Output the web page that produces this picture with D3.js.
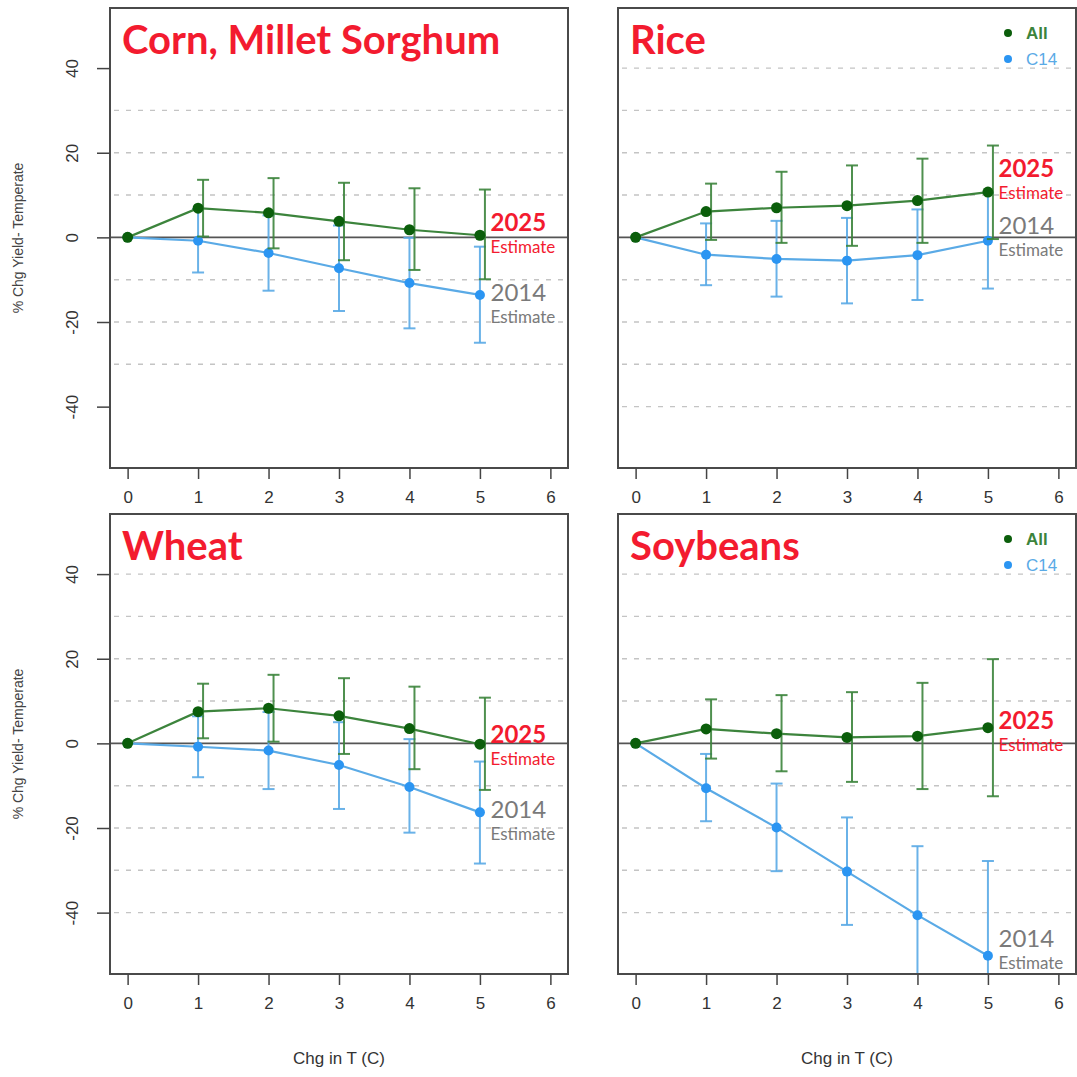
<!DOCTYPE html>
<html>
<head>
<meta charset="utf-8">
<script src="https://cdn.jsdelivr.net/npm/d3@7"></script>
<style>
body { margin: 0; background: #fff; }
svg { display: block; }
</style>
</head>
<body>
<script>
// temperature change steps (x) and panel names
var temps = [0, 1, 2, 3, 4, 5];
var crops = ["Corn, Millet Sorghum", "Rice", "Wheat", "Soybeans"];

// "All" models: mean and error bar ends, one row per crop
var allMean = [
  [0, 6.9, 5.8, 3.8, 1.8, 0.5],
  [0, 6.1, 7.0, 7.5, 8.7, 10.7],
  [0, 7.5, 8.3, 6.5, 3.5, -0.2],
  [0, 3.4, 2.3, 1.4, 1.7, 3.7]
];
var allLow = [
  [0, 0.2, -2.6, -5.4, -7.7, -9.9],
  [0, -0.6, -1.3, -2.0, -1.3, -0.4],
  [0, 1.2, 0.4, -2.5, -6.1, -11.0],
  [0, -3.6, -6.6, -9.1, -10.8, -12.5]
];
var allHigh = [
  [0, 13.6, 14.0, 12.9, 11.6, 11.3],
  [0, 12.7, 15.5, 17.0, 18.6, 21.7],
  [0, 14.1, 16.2, 15.4, 13.4, 10.8],
  [0, 10.4, 11.4, 12.1, 14.3, 19.9]
];

// "C14" models
var c14Mean = [
  [0, -0.8, -3.7, -7.3, -10.8, -13.6],
  [0, -4.1, -5.1, -5.5, -4.2, -0.8],
  [0, -0.8, -1.7, -5.1, -10.3, -16.3],
  [0, -10.6, -19.9, -30.3, -40.6, -50.2]
];
var c14Low = [
  [0, -8.3, -12.6, -17.4, -21.5, -24.9],
  [0, -11.3, -14.0, -15.6, -14.8, -12.1],
  [0, -8.0, -10.8, -15.5, -21.1, -28.4],
  [0, -18.4, -30.2, -42.9, -56.9, -72.6]
];
var c14High = [
  [0, 6.7, 5.2, 2.8, -0.1, -2.2],
  [0, 3.3, 3.9, 4.6, 6.6, 10.5],
  [0, 6.4, 7.4, 5.0, 1.0, -4.3],
  [0, -2.5, -9.5, -17.5, -24.3, -27.8]
];

// tick labels and dashed grid levels
var xTicks = [0, 1, 2, 3, 4, 5, 6];
var yTicks = [-40, -20, 0, 20, 40];
var gridLevels = [
  [-30, -20, -10, 10, 20, 30],
  [-40, -30, -20, -10, 10, 20, 30, 40],
  [-40, -30, -20, -10, 10, 20, 30, 40],
  [-40, -30, -20, -10, 10, 20, 30, 40]
];

// where the "2025 Estimate" / "2014 Estimate" notes sit (data units)
var note2025 = [1.6, 14.2, 0.0, 3.5];
var note2014 = [-15.0, 0.8, -17.7, -48.1];
var noteX = 5.15;

var legendNames = ["All", "C14"];

var green = "#0b5e0b", greenLine = "#3c843c";
var blue = "#2b95f2", blueLine = "#5aaae6";
var red = "#f31b2f";
var axisFont = "'Liberation Sans', Arial, sans-serif";
var noteFont = "Lato, 'Open Sans', sans-serif";

var svg = d3.select("body").append("svg")
    .attr("width", 1077)
    .attr("height", 1077);

var panelW = 458, panelH = 460;
var spots = [[110, 8], [618, 8], [110, 514], [618, 514]];

var x = d3.scaleLinear().domain([-0.25, 6.25]).range([0, panelW]);
var y = d3.scaleLinear().domain([-54.5, 54.2]).range([panelH, 0]);

var line = d3.line()
    .x(function(d) { return x(d[0]); })
    .y(function(d) { return y(d[1]); });

crops.forEach(function(crop, p) {
  var g = svg.append("g")
      .attr("transform", "translate(" + spots[p][0] + "," + spots[p][1] + ")");

  g.append("clipPath").attr("id", "clip" + p)
    .append("rect").attr("width", panelW).attr("height", panelH);

  // dashed grid
  g.selectAll(".grid")
      .data(gridLevels[p])
    .enter().append("line")
      .attr("x1", 4).attr("x2", panelW - 4)
      .attr("y1", function(d) { return y(d); })
      .attr("y2", function(d) { return y(d); })
      .attr("stroke", "#c4c4c4")
      .attr("stroke-width", 1.4)
      .attr("stroke-dasharray", "5,7");

  // zero line
  g.append("line")
      .attr("x1", 0).attr("x2", panelW)
      .attr("y1", y(0)).attr("y2", y(0))
      .attr("stroke", "#555").attr("stroke-width", 1.6);

  var plot = g.append("g").attr("clip-path", "url(#clip" + p + ")");

  // C14 drawn first, All on top
  var series = [
    {mean: c14Mean[p], low: c14Low[p], high: c14High[p], pt: blue, ln: blueLine, r: 5, shift: 0},
    {mean: allMean[p], low: allLow[p], high: allHigh[p], pt: green, ln: greenLine, r: 5.5, shift: 5}
  ];

  series.forEach(function(s) {
    var rows = temps.map(function(t, i) {
      return {t: t, m: s.mean[i], lo: s.low[i], hi: s.high[i]};
    });
    var bars = rows.filter(function(d) { return d.hi > d.lo; });

    var eb = plot.append("g")
        .attr("stroke", s.ln)
        .attr("stroke-width", 2)
        .attr("stroke-opacity", 0.9);
    eb.selectAll(".bar").data(bars).enter().append("line")
        .attr("x1", function(d) { return x(d.t) + s.shift; })
        .attr("x2", function(d) { return x(d.t) + s.shift; })
        .attr("y1", function(d) { return y(d.lo); })
        .attr("y2", function(d) { return y(d.hi); });
    eb.selectAll(".capLo").data(bars).enter().append("line")
        .attr("x1", function(d) { return x(d.t) + s.shift - 6; })
        .attr("x2", function(d) { return x(d.t) + s.shift + 6; })
        .attr("y1", function(d) { return y(d.lo); })
        .attr("y2", function(d) { return y(d.lo); });
    eb.selectAll(".capHi").data(bars).enter().append("line")
        .attr("x1", function(d) { return x(d.t) + s.shift - 6; })
        .attr("x2", function(d) { return x(d.t) + s.shift + 6; })
        .attr("y1", function(d) { return y(d.hi); })
        .attr("y2", function(d) { return y(d.hi); });

    plot.append("path")
        .datum(rows.map(function(d) { return [d.t, d.m]; }))
        .attr("d", line)
        .attr("fill", "none")
        .attr("stroke", s.ln)
        .attr("stroke-width", 2.2);

    plot.selectAll(".pt").data(rows).enter().append("circle")
        .attr("cx", function(d) { return x(d.t); })
        .attr("cy", function(d) { return y(d.m); })
        .attr("r", s.r)
        .attr("fill", s.pt);
  });

  // frame
  g.append("rect")
      .attr("width", panelW).attr("height", panelH)
      .attr("fill", "none")
      .attr("stroke", "#4a4a4a")
      .attr("stroke-width", 2);

  // x axis
  var xa = g.append("g")
      .attr("transform", "translate(0," + panelH + ")")
      .call(d3.axisBottom(x).tickValues(xTicks).tickSize(11).tickPadding(12)
        .tickFormat(function(d) { return String(d); }));
  xa.select(".domain").remove();
  xa.selectAll("line").attr("stroke", "#444").attr("stroke-width", 1.5);
  xa.selectAll("text")
      .attr("fill", "#333")
      .style("font-family", axisFont)
      .style("font-size", "17px");

  // y axis on left column only
  if (p % 2 == 0) {
    var ya = g.append("g")
        .call(d3.axisLeft(y).tickValues(yTicks).tickSize(13)
          .tickFormat(function(d) { return String(d); }));
    ya.select(".domain").remove();
    ya.selectAll("line").attr("stroke", "#444").attr("stroke-width", 1.5);
    ya.selectAll("text")
        .attr("x", 0).attr("y", 0)
        .attr("dy", "0.35em")
        .attr("transform", "translate(-38,0) rotate(-90)")
        .attr("text-anchor", "middle")
        .attr("fill", "#333")
        .style("font-family", axisFont)
        .style("font-size", "17px");

    g.append("text")
        .attr("transform", "translate(-87," + (panelH / 2) + ") rotate(-90)")
        .attr("text-anchor", "middle")
        .attr("fill", "#444")
        .style("font-family", axisFont)
        .style("font-size", "14px")
        .text("% Chg Yield- Temperate");
  }

  // x title on bottom row only
  if (p >= 2) {
    g.append("text")
        .attr("x", panelW / 2)
        .attr("y", panelH + 90)
        .attr("text-anchor", "middle")
        .attr("fill", "#333")
        .style("font-family", axisFont)
        .style("font-size", "17px")
        .text("Chg in T (C)");
  }

  // panel title
  g.append("text")
      .attr("x", 12)
      .attr("y", 46)
      .attr("fill", red)
      .style("font-family", "Lato, 'Open Sans', sans-serif")
      .style("font-weight", "700")
      .style("font-size", "40px")
      .text(crop);

  // legend in right column
  if (p % 2 == 1) {
    var lg = g.selectAll(".legend")
        .data(legendNames)
      .enter().append("g")
        .attr("transform", function(d, i) { return "translate(390," + (25 + i * 26) + ")"; });
    lg.append("circle")
        .attr("r", 4)
        .attr("fill", function(d, i) { return i == 0 ? green : blue; });
    lg.append("text")
        .attr("x", 18)
        .attr("dy", "0.36em")
        .attr("fill", function(d, i) { return i == 0 ? greenLine : blueLine; })
        .style("font-family", axisFont)
        .style("font-weight", function(d, i) { return i == 0 ? "700" : "400"; })
        .style("font-size", "17px")
        .text(function(d) { return d; });
  }

  // estimate notes
  var nx = x(noteX);
  g.append("text")
      .attr("x", nx).attr("y", y(note2025[p]))
      .attr("fill", red)
      .style("font-family", noteFont)
      .style("font-weight", "700")
      .style("font-size", "24px")
      .text("2025");
  g.append("text")
      .attr("x", nx).attr("y", y(note2025[p]) + 22)
      .attr("fill", red)
      .style("font-family", noteFont)
      .style("font-size", "17px")
      .text("Estimate");
  g.append("text")
      .attr("x", nx).attr("y", y(note2014[p]))
      .attr("fill", "#7a7a7a")
      .style("font-family", noteFont)
      .style("font-size", "24px")
      .text("2014");
  g.append("text")
      .attr("x", nx).attr("y", y(note2014[p]) + 22)
      .attr("fill", "#7a7a7a")
      .style("font-family", noteFont)
      .style("font-size", "17px")
      .text("Estimate");
});
</script>
</body>
</html>
